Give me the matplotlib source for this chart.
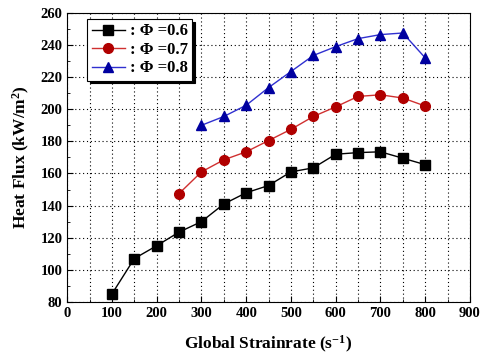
import matplotlib
matplotlib.use("Agg")
import matplotlib.pyplot as plt
from matplotlib.ticker import MultipleLocator

# Data
x06 = [100, 150, 200, 250, 300, 350, 400, 450, 500, 550, 600, 650, 700, 750, 800]
q06 = [85, 107, 115, 123.5, 130, 141, 148, 152.5, 161, 163.5, 172, 173, 173.5, 169.5, 165.5]
x07 = [250, 300, 350, 400, 450, 500, 550, 600, 650, 700, 750, 800]
q07 = [147.5, 161, 168.5, 173.5, 180.5, 187.5, 195.5, 201.5, 208, 209, 207, 202]
x08 = [300, 350, 400, 450, 500, 550, 600, 650, 700, 750, 800]
q08 = [190, 195.5, 202.5, 213.5, 223.5, 233.5, 239, 244, 246.5, 247.5, 232]

plt.rcParams['font.family'] = ['Liberation Serif', 'DejaVu Serif']
plt.rcParams['font.weight'] = 'bold'
plt.rcParams['mathtext.default'] = 'regular'

fig = plt.figure(figsize=(4.87, 3.59), dpi=100)
ax = fig.add_axes([0.138, 0.159, 0.827, 0.805])

ax.plot(x06, q06, color='black', marker='s', ms=6.5, lw=1, label=': \u03a6 =0.6')
ax.plot(x07, q07, color='#d03030', marker='o', ms=7, mfc='#b00000', mec='#b00000', lw=1, label=': \u03a6 =0.7')
ax.plot(x08, q08, color='#3030d0', marker='^', ms=7.5, mfc='#0000a0', mec='#0000a0', lw=1, label=': \u03a6 =0.8')

ax.set_xlim(0, 900)
ax.set_ylim(80, 260)
ax.xaxis.set_major_locator(MultipleLocator(100))
ax.xaxis.set_minor_locator(MultipleLocator(50))
ax.yaxis.set_major_locator(MultipleLocator(20))
ax.yaxis.set_minor_locator(MultipleLocator(10))
ax.tick_params(which='both', direction='in', labelsize=10.5)
ax.tick_params(which='major', length=4)
ax.tick_params(which='minor', length=2)
for lab in ax.get_xticklabels() + ax.get_yticklabels():
    lab.set_fontweight('bold')

ax.grid(True, which='major', axis='y', ls=(0, (1, 2.5)), color='black', lw=0.8)
ax.grid(True, which='both', axis='x', ls=(0, (1, 2.5)), color='black', lw=0.8)

ax.set_xlabel('Global Strainrate (s$^{-1}$)', fontsize=12.5, fontweight='bold', labelpad=10)
ax.set_ylabel('Heat Flux (kW/m$^{2}$)', fontsize=12.5, fontweight='bold', labelpad=6)

leg = ax.legend(loc='upper left', bbox_to_anchor=(0.05, 0.978), fontsize=12,
                shadow={'color': 'black', 'alpha': 1},
                fancybox=False, framealpha=1, edgecolor='black', handlelength=2.0,
                borderpad=0.25, labelspacing=0.15, handletextpad=0.3, borderaxespad=0)
leg.get_frame().set_linewidth(0.8)
for t in leg.get_texts():
    t.set_fontweight('bold')

fig.savefig('out.png', dpi=100)
